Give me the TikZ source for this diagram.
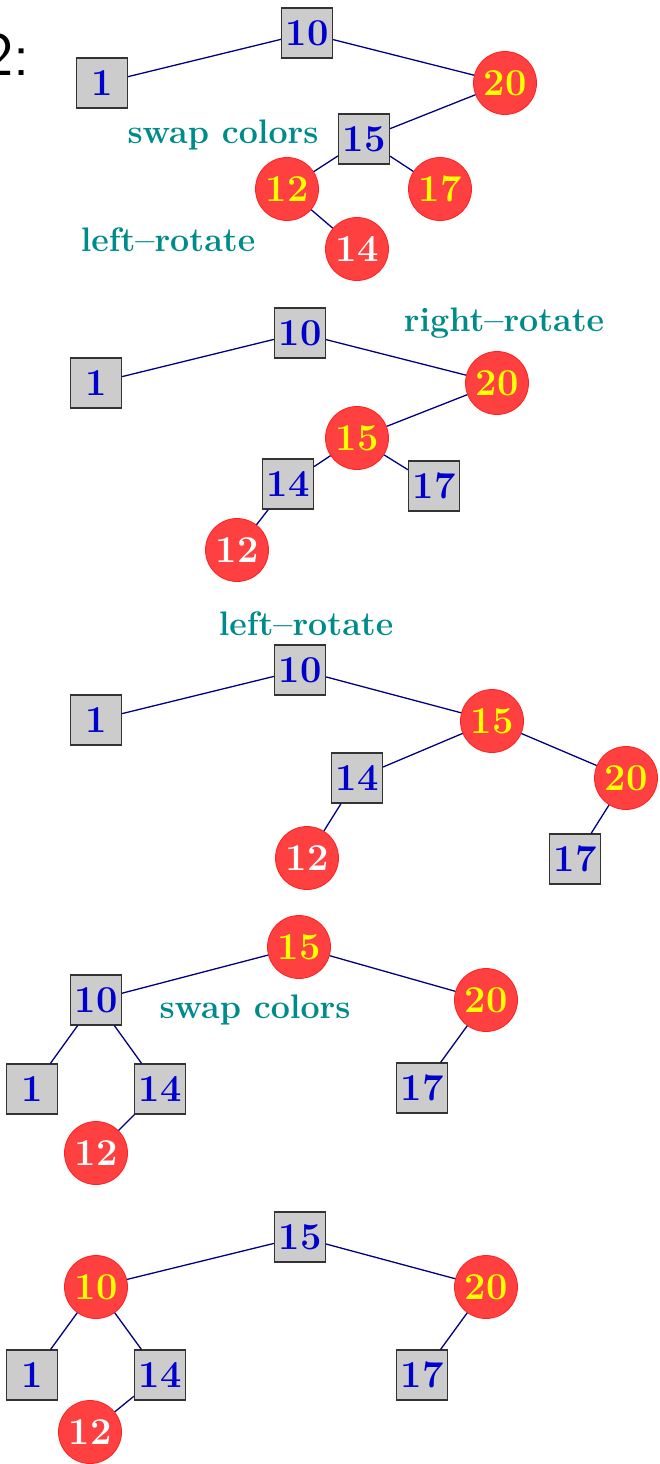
\documentclass[tikz,border=0pt]{standalone}
\usepackage{fontspec}
\definecolor{rbred}{HTML}{FF4040}
\definecolor{rbedge}{HTML}{FF2020}
\definecolor{sqfill}{HTML}{CCCCCC}
\definecolor{numblue}{HTML}{0000CC}
\definecolor{numyel}{HTML}{FFFF00}
\definecolor{edgeblue}{HTML}{000080}
\definecolor{noteteal}{HTML}{008B8B}
\tikzset{
  blk/.style={draw=black!80, fill=sqfill, line width=1.2pt, minimum width=51pt, minimum height=50pt,
    inner sep=0pt, text=numblue, font=\fontsize{38}{38}\selectfont\bfseries},
  redy/.style={circle, draw=rbedge, fill=rbred, line width=0.8pt, minimum size=63pt, inner sep=0pt,
    text=numyel, font=\fontsize{38}{38}\selectfont\bfseries},
  redw/.style={redy, text=white},
  note/.style={text=noteteal, font=\fontsize{34}{34}\selectfont\bfseries, inner sep=0pt},
  tedge/.style={draw=edgeblue, line width=1.3pt},
}
\begin{document}
\begin{tikzpicture}[x=1pt,y=-1pt]
\path[use as bounding box] (0,0) rectangle (659,1464);
\node[anchor=base east, inner sep=0pt, font=\fontsize{62}{62}\selectfont\sffamily] (lbl) at (30,75) {2:};
% Tree 1
\node[blk] (a10) at (307,33) {10};
\node[blk] (a1) at (102,83) {1};
\node[redy] (a20) at (505,83) {20};
\node[blk] (a15) at (364,139) {15};
\node[redy] (a12) at (287,189) {12};
\node[redy] (a17) at (440,189) {17};
\node[redw] (a14) at (357,249) {14};
\node[note] (an1) at (223,135) {swap colors};
\node[note] (an2) at (168,240) {left--rotate};
\draw[tedge] (a10) -- (a1);
\draw[tedge] (a10) -- (a20);
\draw[tedge] (a20) -- (a15);
\draw[tedge] (a15) -- (a12);
\draw[tedge] (a15) -- (a17);
\draw[tedge] (a12) -- (a14);
% Tree 2
\node[blk] (b10) at (300,333) {10};
\node[blk] (b1) at (96,383) {1};
\node[redy] (b20) at (497,383) {20};
\node[redy] (b15) at (357,438) {15};
\node[blk] (b14) at (288,484) {14};
\node[blk] (b17) at (434,486) {17};
\node[redw] (b12) at (237,550) {12};
\node[note] (bn1) at (504,323) {right--rotate};
\draw[tedge] (b10) -- (b1);
\draw[tedge] (b10) -- (b20);
\draw[tedge] (b20) -- (b15);
\draw[tedge] (b15) -- (b14);
\draw[tedge] (b15) -- (b17);
\draw[tedge] (b14) -- (b12);
% Tree 3
\node[note] (cn1) at (306,624) {left--rotate};
\node[blk] (c10) at (300,670) {10};
\node[blk] (c1) at (96,720) {1};
\node[redy] (c15) at (492,721) {15};
\node[blk] (c14) at (357,778) {14};
\node[redy] (c20) at (626,778) {20};
\node[redw] (c12) at (307,858) {12};
\node[blk] (c17) at (575,859) {17};
\draw[tedge] (c10) -- (c1);
\draw[tedge] (c10) -- (c15);
\draw[tedge] (c15) -- (c14);
\draw[tedge] (c15) -- (c20);
\draw[tedge] (c14) -- (c12);
\draw[tedge] (c20) -- (c17);
% Tree 4
\node[redy] (d15) at (299,947) {15};
\node[blk] (d10) at (96,1000) {10};
\node[redy] (d20) at (486,1000) {20};
\node[blk] (d1) at (32,1089) {1};
\node[blk] (d14) at (160,1089) {14};
\node[blk] (d17) at (422,1088) {17};
\node[redw] (d12) at (96,1153) {12};
\node[note] (dn1) at (255,1010) {swap colors};
\draw[tedge] (d15) -- (d10);
\draw[tedge] (d15) -- (d20);
\draw[tedge] (d10) -- (d1);
\draw[tedge] (d10) -- (d14);
\draw[tedge] (d14) -- (d12);
\draw[tedge] (d20) -- (d17);
% Tree 5
\node[blk] (e15) at (300,1237) {15};
\node[redy] (e10) at (96,1287) {10};
\node[redy] (e20) at (486,1287) {20};
\node[blk] (e1) at (32,1375) {1};
\node[blk] (e14) at (160,1375) {14};
\node[blk] (e17) at (422,1375) {17};
\node[redw] (e12) at (90,1432) {12};
\draw[tedge] (e15) -- (e10);
\draw[tedge] (e15) -- (e20);
\draw[tedge] (e10) -- (e1);
\draw[tedge] (e10) -- (e14);
\draw[tedge] (e14) -- (e12);
\draw[tedge] (e20) -- (e17);
\end{tikzpicture}
\end{document}
